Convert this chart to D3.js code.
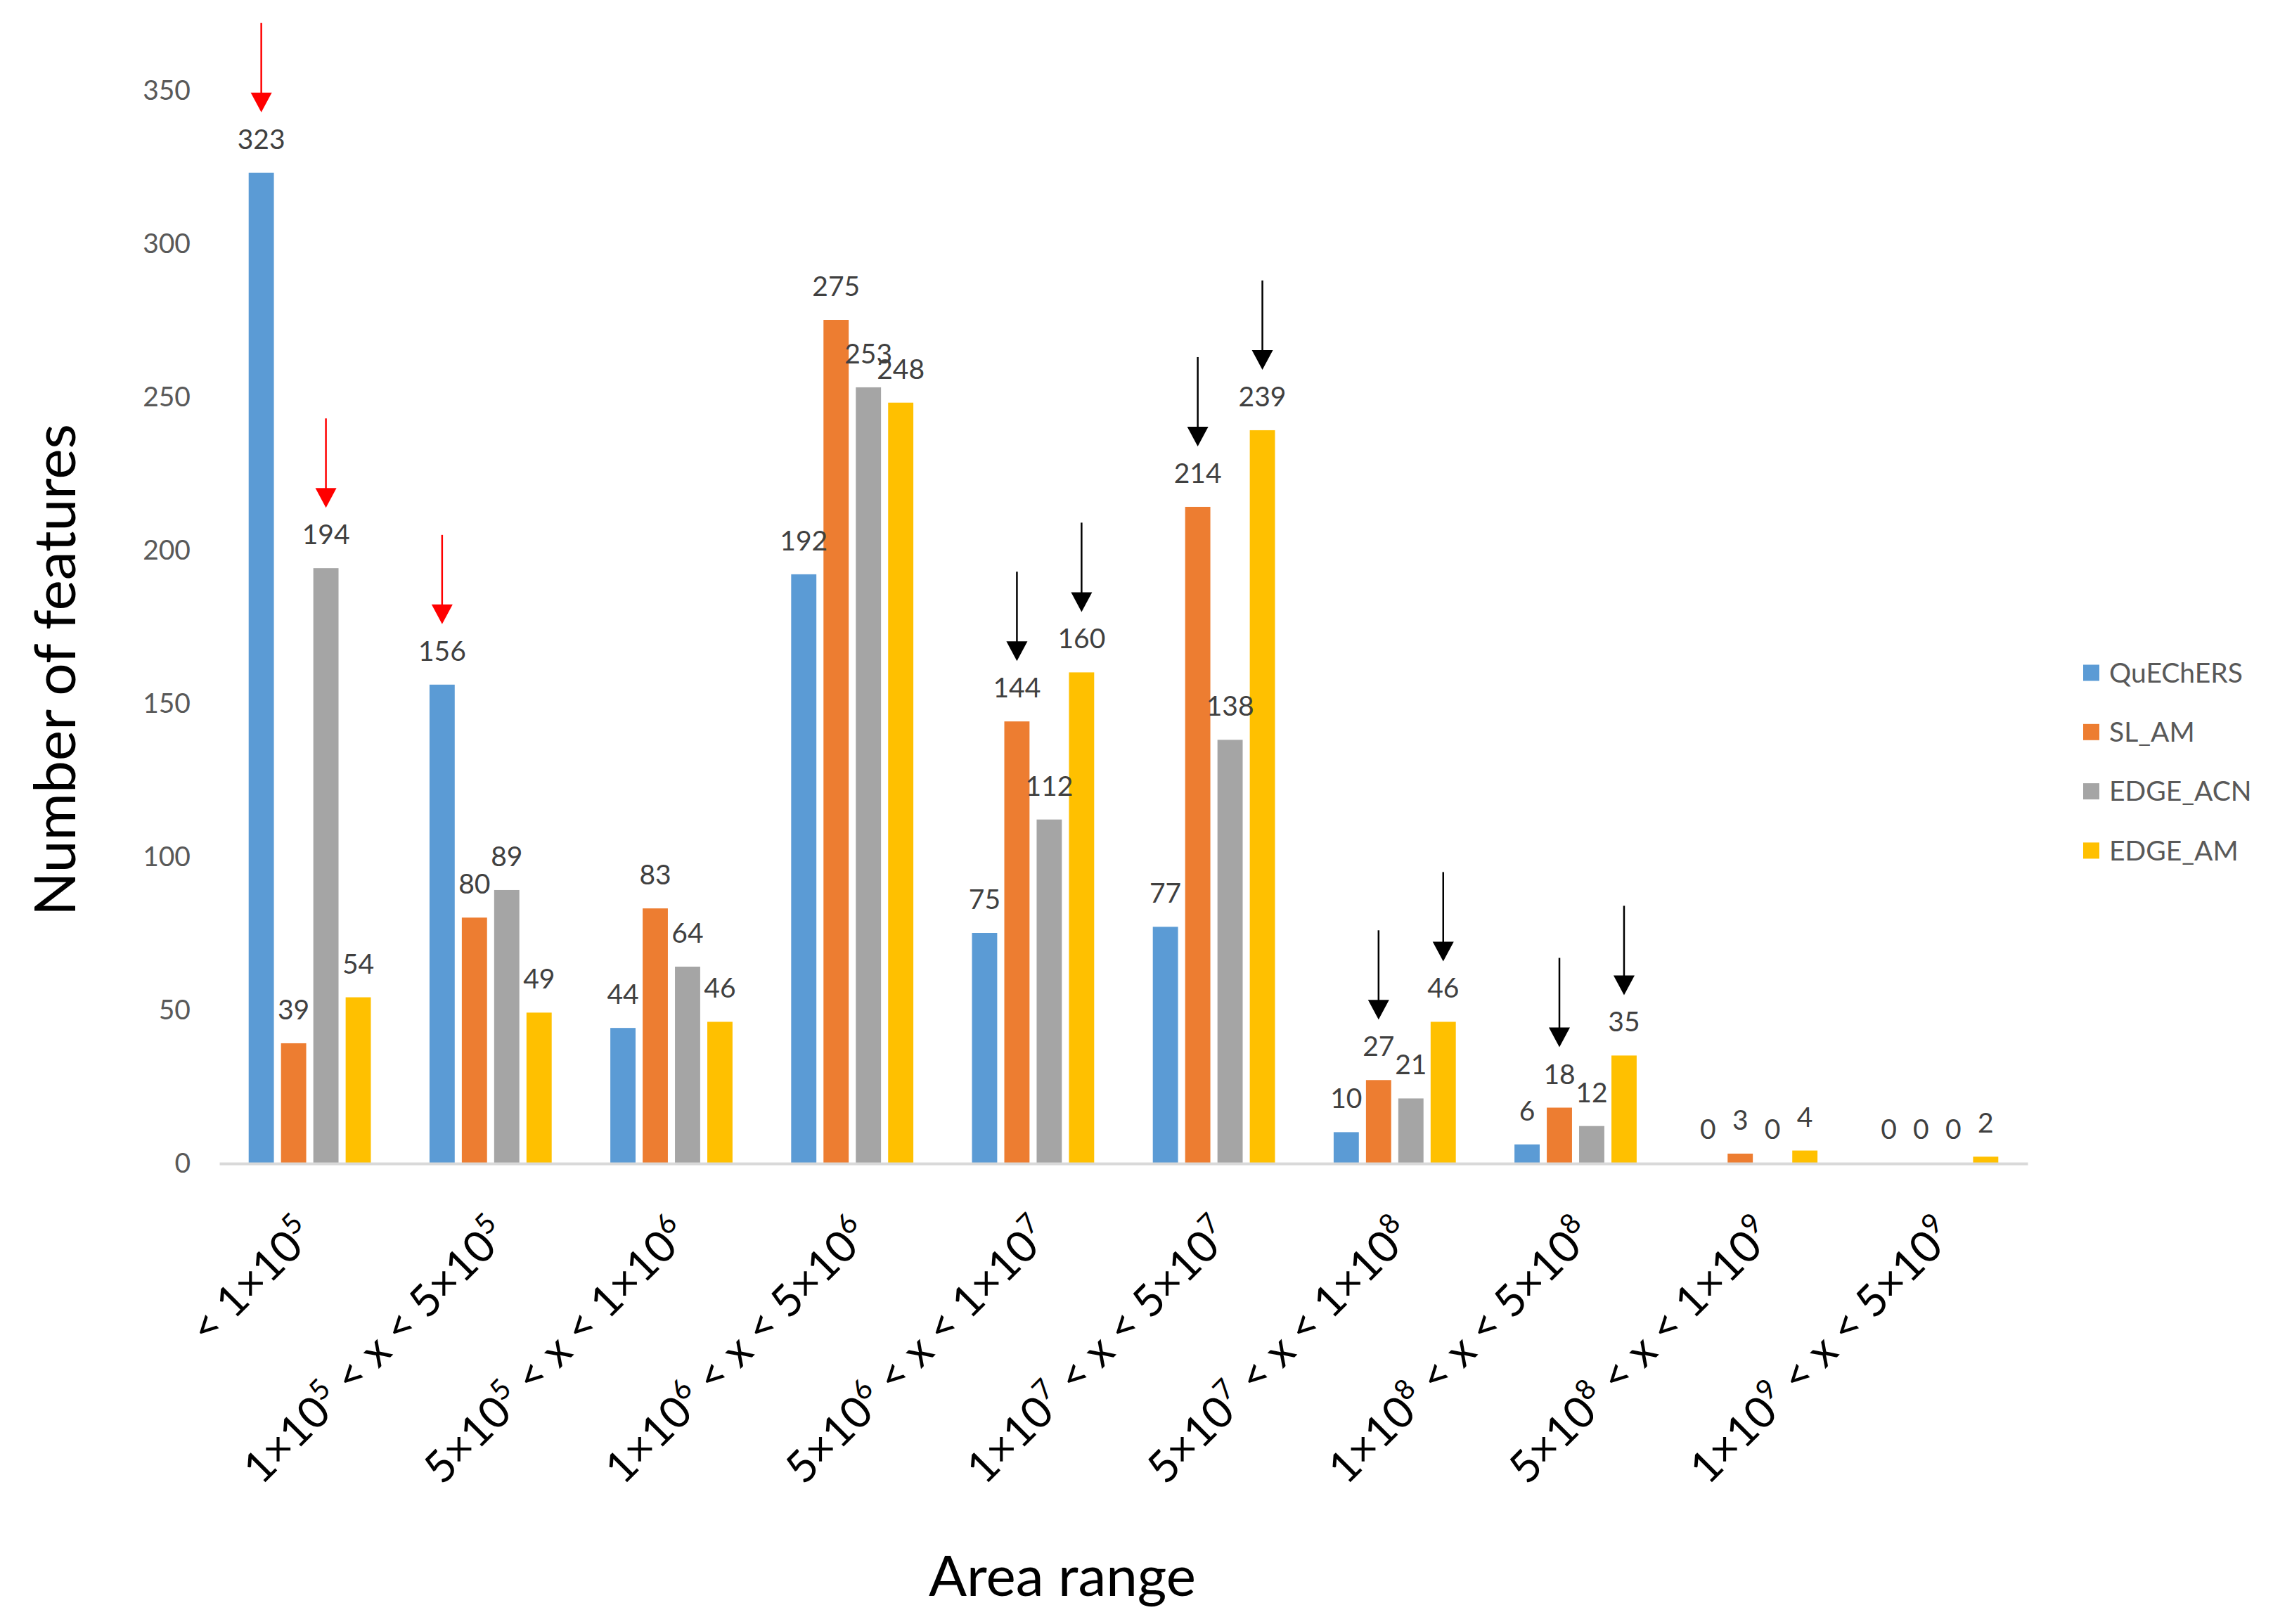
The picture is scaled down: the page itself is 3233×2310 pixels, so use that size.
<!DOCTYPE html>
<html>
<head>
<meta charset="utf-8">
<script src="https://cdn.jsdelivr.net/npm/d3@7"></script>
<style>
  body { margin: 0; background: #fff; }
  text { font-family: Lato, "Open Sans", sans-serif; white-space: pre; }
</style>
</head>
<body>
<div id="chart"></div>
<script>
// valores
var categories = ["< 1×10^5", "1×10^5 < x < 5×10^5", "5×10^5 < x < 1×10^6", "1×10^6 < x < 5×10^6",
  "5×10^6 < x < 1×10^7", "1×10^7 < x < 5×10^7", "5×10^7 < x < 1×10^8", "1×10^8 < x < 5×10^8",
  "5×10^8 < x < 1×10^9", "1×10^9 < x < 5×10^9"];
var seriesNames = ["QuEChERS", "SL_AM", "EDGE_ACN", "EDGE_AM"];
var quechers = [323, 156, 44, 192, 75, 77, 10, 6, 0, 0];
var slAm     = [39, 80, 83, 275, 144, 214, 27, 18, 3, 0];
var edgeAcn  = [194, 89, 64, 253, 112, 138, 21, 12, 0, 0];
var edgeAm   = [54, 49, 46, 248, 160, 239, 46, 35, 4, 2];
var yTicks = [0, 50, 100, 150, 200, 250, 300, 350];
// flechas: [categoría, serie]
var redArrows = [[0, "QuEChERS"], [0, "EDGE_ACN"], [1, "QuEChERS"]];
var blackArrows = [[4, "SL_AM"], [4, "EDGE_AM"], [5, "SL_AM"], [5, "EDGE_AM"],
  [6, "SL_AM"], [6, "EDGE_AM"], [7, "SL_AM"], [7, "EDGE_AM"]];

var seriesValues = [quechers, slAm, edgeAcn, edgeAm];
var colors = ["#5B9BD5", "#ED7D31", "#A5A5A5", "#FFC000"];

var width = 3233, height = 2310;
var plot = {left: 312, right: 2884, top: 128, bottom: 1654};

var svg = d3.select("#chart").append("svg")
    .attr("width", width)
    .attr("height", height)
    .style("background", "#fff");

var x0 = d3.scaleBand()
    .domain(categories)
    .range([plot.left, plot.right])
    .paddingInner(0.285)
    .paddingOuter(0.1425);

var x1 = d3.scaleBand()
    .domain(seriesNames)
    .range([0, x0.bandwidth()])
    .paddingInner(0.22)
    .paddingOuter(0.11);

var y = d3.scaleLinear()
    .domain([0, 350])
    .range([plot.bottom, plot.top]);

var color = d3.scaleOrdinal().domain(seriesNames).range(colors);

// tabla plana para barras y etiquetas
var rows = [];
categories.forEach(function(c, i) {
  seriesNames.forEach(function(s, j) {
    rows.push({cat: c, idx: i, series: s, value: seriesValues[j][i]});
  });
});

// eje Y (solo etiquetas)
var yAxis = d3.axisLeft(y).tickValues(yTicks).tickSize(0).tickPadding(0);
var gy = svg.append("g")
    .attr("transform", "translate(271,0)")
    .call(yAxis);
gy.select(".domain").remove();
gy.selectAll("text")
    .style("font-family", "Lato")
    .style("font-size", "39px")
    .attr("fill", "#595959")
    .attr("dy", "0.35em");

// barras
svg.append("g").selectAll("rect")
    .data(rows)
  .enter().append("rect")
    .attr("x", function(d) { return x0(d.cat) + x1(d.series); })
    .attr("y", function(d) { return y(d.value); })
    .attr("width", x1.bandwidth())
    .attr("height", function(d) { return y(0) - y(d.value); })
    .attr("fill", function(d) { return color(d.series); });

// línea del eje X
var xAxis = d3.axisBottom(x0).tickSize(0).tickFormat("");
var gx = svg.append("g")
    .attr("transform", "translate(0," + (y(0) + 1) + ")")
    .call(xAxis);
gx.select(".domain")
    .attr("stroke", "#D9D9D9")
    .attr("stroke-width", 4);

// etiquetas de datos
svg.append("g").selectAll("text")
    .data(rows)
  .enter().append("text")
    .attr("x", function(d) { return x0(d.cat) + x1(d.series) + x1.bandwidth() / 2; })
    .attr("y", function(d) { return y(d.value) - 34; })
    .attr("text-anchor", "middle")
    .style("font-size", "39px")
    .attr("fill", "#404040")
    .text(function(d) { return d.value; });

// etiquetas de categorías con superíndices
var catLabels = svg.append("g").selectAll("text")
    .data(categories)
  .enter().append("text")
    .attr("text-anchor", "end")
    .style("font-size", "62px")
    .attr("fill", "#000");

catLabels.each(function(d) {
  var parts = d.split(/\^(\d)/);
  var t = d3.select(this);
  var raised = false;
  parts.forEach(function(p, k) {
    if (p === "") return;
    var sup = k % 2 === 1;
    var ts = t.append("tspan").text(p);
    if (sup) {
      ts.style("font-size", "40px").attr("dy", raised ? 0 : -25);
      raised = true;
    } else if (raised) {
      ts.attr("dy", 25);
      raised = false;
    }
  });
  // las etiquetas largas quedan algo más a la derecha, como en Excel
  var len = this.getComputedTextLength();
  var cx = x0(d) + x0.bandwidth() / 2;
  t.attr("transform", "translate(" + (cx - 3.5 + 0.063 * len) + ",1760) rotate(-45)");
});

// flechas
function drawArrows(list, col) {
  var g = svg.append("g");
  list.forEach(function(a) {
    var cat = categories[a[0]];
    var j = seriesNames.indexOf(a[1]);
    var cx = x0(cat) + x1(a[1]) + x1.bandwidth() / 2;
    var tip = y(seriesValues[j][a[0]]) - 86;
    g.append("line")
      .attr("x1", cx).attr("x2", cx)
      .attr("y1", tip - 127).attr("y2", tip - 20)
      .attr("stroke", col)
      .attr("stroke-width", 2.5);
    g.append("path")
      .attr("d", "M" + (cx - 15) + "," + (tip - 28) + "L" + (cx + 15) + "," + (tip - 28) + "L" + cx + "," + tip + "Z")
      .attr("fill", col);
  });
}
drawArrows(redArrows, "#FF0000");
drawArrows(blackArrows, "#000000");

// títulos de ejes
svg.append("text")
    .attr("transform", "translate(107,953) rotate(-90)")
    .attr("text-anchor", "middle")
    .style("font-size", "82px")
    .attr("fill", "#000")
    .text("Number of features");

svg.append("text")
    .attr("x", 1511)
    .attr("y", 2270)
    .attr("text-anchor", "middle")
    .style("font-size", "80px")
    .attr("fill", "#000")
    .text("Area range");

// leyenda
var legend = svg.append("g").selectAll("g")
    .data(seriesNames)
  .enter().append("g")
    .attr("transform", function(d, i) { return "translate(2963," + (957 + i * 84.3) + ")"; });
legend.append("rect")
    .attr("x", 0).attr("y", -11.5)
    .attr("width", 23).attr("height", 23)
    .attr("fill", function(d) { return color(d); });
legend.append("text")
    .attr("x", 37)
    .attr("dy", "0.35em")
    .style("font-size", "39px")
    .attr("fill", "#595959")
    .text(function(d) { return d; });
</script>
</body>
</html>
